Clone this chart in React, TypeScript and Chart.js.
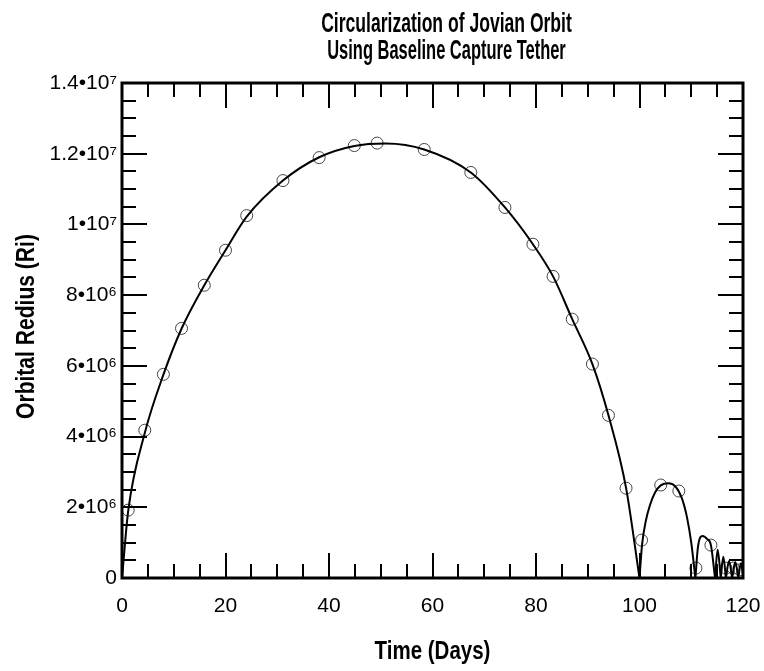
import React, { useEffect, useRef } from 'react';
import { Chart, registerables } from 'chart.js';

Chart.register(...registerables);

// ---- text ----
const titleLines = ['Circularization of Jovian Orbit', 'Using Baseline Capture Tether'];
const xAxisTitle = 'Time (Days)';
const yAxisTitle = 'Orbital Redius (Ri)';

// ---- ticks ----
const xTickValues = [0, 20, 40, 60, 80, 100, 120];
const xTickLabels = ['0', '20', '40', '60', '80', '100', '120'];
const xMinorStep = 5;
const yTickValues = [0, 2e6, 4e6, 6e6, 8e6, 1e7, 1.2e7, 1.4e7];
const yTickLabels = ['0', '2•10⁶', '4•10⁶', '6•10⁶', '8•10⁶', '1•10⁷', '1.2•10⁷', '1.4•10⁷'];
const yMinorStep = 5e5;

// ---- curve, one array pair per arc ----
const arc1Days = [0, 1.2, 4.4, 8, 11.5, 15.9, 20, 24.1, 31.1, 38.1, 44.9, 51, 58.4, 67.4, 74, 79.4, 83.3, 87, 90.9, 94, 97.4, 100];
const arc1Radius = [0, 1.9e6, 4.1e6, 5.75e6, 7.05e6, 8.28e6, 9.27e6, 10.22e6, 11.24e6, 11.9e6, 12.22e6, 12.29e6, 12.12e6, 11.47e6, 10.48e6, 9.44e6, 8.53e6, 7.32e6, 6.05e6, 4.6e6, 2.55e6, 0];
const arc2Days = [100, 100.5, 101.2, 102, 103, 104.1, 105.6, 107, 108.2, 109.2, 110, 110.8];
const arc2Radius = [0, 0.95e6, 1.6e6, 2.05e6, 2.42e6, 2.62e6, 2.68e6, 2.58e6, 2.25e6, 1.7e6, 1.0e6, 0];
const arc3Days = [110.8, 111.3, 112.2, 113.1, 113.8, 114.6];
const arc3Radius = [0, 0.88e6, 1.19e6, 1.1e6, 0.93e6, 0];
const arc4Days = [114.6, 115.1, 115.7];
const arc4Radius = [0, 0.8e6, 0];
const arc5Days = [115.7, 116.2, 116.7];
const arc5Radius = [0, 0.6e6, 0];
const arc6Days = [116.7, 117.3, 117.9];
const arc6Radius = [0, 0.48e6, 0];
const arc7Days = [117.9, 118.5, 119.1];
const arc7Radius = [0, 0.45e6, 0];
const arc8Days = [119.1, 119.6, 120];
const arc8Radius = [0, 0.42e6, 0.1e6];

// ---- open circle markers ----
const markerDays = [1.2, 4.4, 8, 11.5, 15.9, 20, 24.1, 31.1, 38.1, 44.9, 49.3, 58.4, 67.4, 74, 79.4, 83.3, 87, 90.9, 94, 97.4, 100.4, 104.1, 107.6, 110.9, 113.8, 116.7, 118.1, 119.4];
const markerRadius = [1.92e6, 4.18e6, 5.76e6, 7.06e6, 8.28e6, 9.27e6, 10.25e6, 11.24e6, 11.89e6, 12.23e6, 12.3e6, 12.12e6, 11.47e6, 10.48e6, 9.44e6, 8.53e6, 7.32e6, 6.05e6, 4.6e6, 2.54e6, 1.07e6, 2.63e6, 2.46e6, 0.28e6, 0.93e6, 0.28e6, 0.28e6, 0.23e6];

const arcs: [number[], number[]][] = [
  [arc1Days, arc1Radius],
  [arc2Days, arc2Radius],
  [arc3Days, arc3Radius],
  [arc4Days, arc4Radius],
  [arc5Days, arc5Radius],
  [arc6Days, arc6Radius],
  [arc7Days, arc7Radius],
  [arc8Days, arc8Radius],
];

const FONT_BOLD = "'Liberation Sans', Arial, sans-serif";
const FONT_REG = "'Liberation Sans', Arial, sans-serif";

// condensed bold text: real canvas text, squeezed horizontally
function drawCondensed(ctx: any, text: string, x: number, y: number, size: number, squeeze: number, rotate = 0) {
  ctx.save();
  ctx.translate(x, y);
  if (rotate) ctx.rotate(rotate);
  ctx.scale(squeeze, 1);
  ctx.font = `bold ${size}px ${FONT_BOLD}`;
  ctx.fillStyle = '#000';
  ctx.textAlign = 'center';
  ctx.textBaseline = 'alphabetic';
  ctx.fillText(text, 0, 0);
  ctx.restore();
}

const textPlugin = {
  id: 'condensedText',
  afterDraw(chart: any) {
    const { ctx, chartArea } = chart;
    const cx = (chartArea.left + chartArea.right) / 2;
    const cy = (chartArea.top + chartArea.bottom) / 2;
    // title lines
    drawCondensed(ctx, titleLines[0], cx + 14, 32, 27, 0.65);
    drawCondensed(ctx, titleLines[1], cx + 14, 59, 27, 0.61);
    // axis titles
    drawCondensed(ctx, xAxisTitle, cx, 659, 25, 0.82);
    drawCondensed(ctx, yAxisTitle, 34, cy - 4, 26, 0.81, -Math.PI / 2);
  },
};

const frameTicksPlugin = {
  id: 'frameTicks',
  afterDatasetsDraw(chart: any) {
    const { ctx, chartArea } = chart;
    const xs = chart.scales.x;
    const ys = chart.scales.y;
    const { left, right, top, bottom } = chartArea;
    const MAJOR = 25;
    const MINOR = 14;
    ctx.save();
    ctx.strokeStyle = '#000';
    ctx.lineWidth = 2;
    ctx.lineCap = 'butt';
    const isMajor = (v: number, arr: number[]) => arr.some((a) => Math.abs(a - v) < 1e-6 * Math.max(1, Math.abs(a)));
    ctx.beginPath();
    for (let v = xs.min; v <= xs.max + 1e-9; v += xMinorStep) {
      const len = isMajor(v, xTickValues) ? MAJOR : MINOR;
      const px = Math.round(xs.getPixelForValue(v));
      if (Math.abs(px - left) < 2 || Math.abs(px - right) < 2) continue;
      ctx.moveTo(px, bottom);
      ctx.lineTo(px, bottom - len);
      ctx.moveTo(px, top);
      ctx.lineTo(px, top + len);
    }
    for (let v = ys.min; v <= ys.max + 1; v += yMinorStep) {
      const len = isMajor(v, yTickValues) ? MAJOR : MINOR;
      const py = Math.round(ys.getPixelForValue(v));
      if (Math.abs(py - top) < 2 || Math.abs(py - bottom) < 2) continue;
      ctx.moveTo(left, py);
      ctx.lineTo(left + len, py);
      ctx.moveTo(right, py);
      ctx.lineTo(right - len, py);
    }
    ctx.stroke();
    ctx.lineWidth = 3;
    ctx.strokeRect(left, top, right - left, bottom - top);
    ctx.restore();
  },
};

export default function App() {
  const ref = useRef<HTMLCanvasElement | null>(null);
  useEffect(() => {
    document.body.style.margin = '0';
    const canvas = ref.current;
    if (!canvas) return;
    const datasets: any[] = arcs.map(([d, r]) => ({
      type: 'line',
      data: d.map((x, i) => ({ x, y: r[i] })),
      borderColor: '#000',
      borderWidth: 2,
      pointRadius: 0,
      fill: false,
      cubicInterpolationMode: 'monotone',
    }));
    datasets.push({
      type: 'line',
      data: markerDays.map((x, i) => ({ x, y: markerRadius[i] })),
      showLine: false,
      pointStyle: 'circle',
      pointRadius: 6,
      pointBorderWidth: 1,
      pointBorderColor: '#444',
      pointBackgroundColor: 'rgba(0,0,0,0)',
    });
    const chart = new Chart(canvas, {
      type: 'line',
      data: { datasets },
      options: {
        responsive: false,
        animation: false,
        events: [],
        layout: { padding: { left: 0, right: 21, top: 83, bottom: 0 } },
        plugins: {
          legend: { display: false },
          tooltip: { enabled: false },
          title: { display: false },
        },
        scales: {
          x: {
            type: 'linear',
            min: 0,
            max: 120,
            afterBuildTicks: (s: any) => {
              s.ticks = xTickValues.map((v) => ({ value: v }));
            },
            afterFit: (s: any) => {
              s.height = 93;
              s.paddingLeft = 0;
              s.paddingRight = 0;
            },
            grid: { display: false, drawTicks: false },
            border: { display: false },
            ticks: {
              color: '#000',
              padding: 16,
              maxRotation: 0,
              autoSkip: false,
              font: { family: FONT_REG, size: 21 },
              callback: (v: any) => xTickLabels[xTickValues.indexOf(Number(v))] ?? '',
            },
            title: { display: false },
          },
          y: {
            type: 'linear',
            min: 0,
            max: 1.4e7,
            afterBuildTicks: (s: any) => {
              s.ticks = yTickValues.map((v) => ({ value: v }));
            },
            afterFit: (s: any) => {
              s.width = 122;
              s.paddingTop = 0;
              s.paddingBottom = 0;
            },
            grid: { display: false, drawTicks: false },
            border: { display: false },
            ticks: {
              color: '#000',
              padding: 5,
              autoSkip: false,
              font: { family: FONT_REG, size: 21 },
              callback: (v: any) => {
                const i = yTickValues.findIndex((t) => Math.abs(t - Number(v)) < 1);
                return i >= 0 ? yTickLabels[i] : '';
              },
            },
            title: { display: false },
          },
        },
      },
      plugins: [frameTicksPlugin, textPlugin],
    } as any);
    return () => chart.destroy();
  }, []);
  return <canvas ref={ref} width={764} height={671} style={{ display: 'block', width: 764, height: 671 }} />;
}
